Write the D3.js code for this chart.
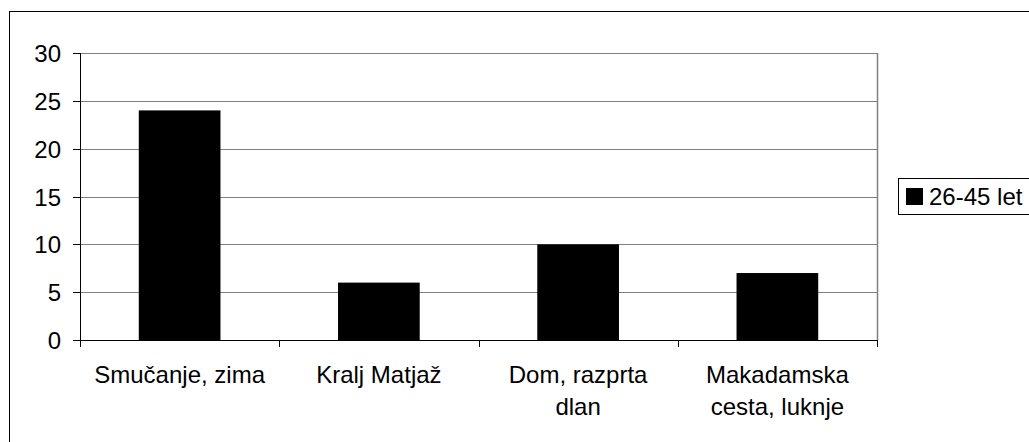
<!DOCTYPE html>
<html>
<head>
<meta charset="utf-8">
<script src="https://cdn.jsdelivr.net/npm/d3@7"></script>
<style>
  body { margin: 0; background: #fff; }
  text { font-family: "Liberation Sans", Arial, sans-serif; }
</style>
</head>
<body>
<div id="main_div"></div>
<script>
const categories = [["Smučanje, zima"], ["Kralj Matjaž"], ["Dom, razprta", "dlan"], ["Makadamska", "cesta, luknje"]];
const values = [24, 6, 10, 7];
const yTicks = [0, 5, 10, 15, 20, 25, 30];
const seriesName = "26-45 let";

const W = 1029, H = 442;
const FONT = 24;

const svg = d3.select("#main_div").append("svg")
    .attr("width", W)
    .attr("height", H);

// outer chart border (runs off the right and bottom edges)
svg.append("rect")
    .attr("x", 9.5).attr("y", 11.5)
    .attr("width", 1100).attr("height", 500)
    .attr("fill", "none")
    .attr("stroke", "#000");

const plotL = 80, plotR = 877, plotT = 53, plotB = 340;

const x = d3.scaleBand()
    .domain(d3.range(categories.length))
    .range([plotL, plotR])
    .paddingInner(0.59)
    .paddingOuter(0.295);

const xTick = d3.scaleBand()
    .domain(d3.range(categories.length))
    .range([plotL, plotR]);

const y = d3.scaleLinear()
    .domain([0, 30])
    .range([plotB, plotT]);

// gridlines
svg.append("g").selectAll("line")
    .data(yTicks.filter(v => v > 0))
    .join("line")
    .attr("x1", plotL).attr("x2", plotR)
    .attr("y1", v => Math.round(y(v)) + 0.5)
    .attr("y2", v => Math.round(y(v)) + 0.5)
    .attr("stroke", "#808080");

// right edge of plot area
svg.append("line")
    .attr("x1", plotR + 0.5).attr("x2", plotR + 0.5)
    .attr("y1", plotT).attr("y2", plotB)
    .attr("stroke", "#808080")
    .attr("stroke-width", 1.5);

// bars
svg.append("g").selectAll("rect")
    .data(values)
    .join("rect")
    .attr("x", (d, i) => x(i))
    .attr("width", x.bandwidth())
    .attr("y", d => y(d))
    .attr("height", d => y(0) - y(d))
    .attr("fill", "#000");

// y axis
svg.append("line")
    .attr("x1", plotL + 0.5).attr("x2", plotL + 0.5)
    .attr("y1", plotT).attr("y2", plotB + 6)
    .attr("stroke", "#000");

const yg = svg.append("g").selectAll("g")
    .data(yTicks)
    .join("g")
    .attr("transform", v => `translate(0,${Math.round(y(v)) + 0.5})`);
yg.append("line")
    .attr("x1", plotL - 7).attr("x2", plotL)
    .attr("stroke", "#000");
yg.append("text")
    .attr("x", 61)
    .attr("dy", "0.35em")
    .attr("text-anchor", "end")
    .attr("font-size", FONT)
    .text(d => d);

// x axis
svg.append("line")
    .attr("x1", plotL).attr("x2", plotR + 1)
    .attr("y1", plotB + 0.5).attr("y2", plotB + 0.5)
    .attr("stroke", "#000");

svg.append("g").selectAll("line")
    .data(d3.range(categories.length + 1))
    .join("line")
    .attr("x1", i => Math.round(plotL + i * xTick.step()) + 0.5)
    .attr("x2", i => Math.round(plotL + i * xTick.step()) + 0.5)
    .attr("y1", plotB)
    .attr("y2", plotB + 7)
    .attr("stroke", "#000");

const labels = svg.append("g").selectAll("text")
    .data(categories)
    .join("text")
    .attr("y", 383)
    .attr("text-anchor", "middle")
    .attr("font-size", FONT);
labels.selectAll("tspan")
    .data((d, i) => d.map(s => ({ s, i })))
    .join("tspan")
    .attr("x", d => xTick(d.i) + xTick.bandwidth() / 2)
    .attr("dy", (d, j) => j === 0 ? 0 : 32)
    .text(d => d.s);

// legend
const legend = svg.append("g");
legend.append("rect")
    .attr("x", 898.5).attr("y", 178.5)
    .attr("width", 200).attr("height", 36)
    .attr("fill", "#fff")
    .attr("stroke", "#000");
legend.append("rect")
    .attr("x", 906).attr("y", 188)
    .attr("width", 17).attr("height", 17)
    .attr("fill", "#000");
legend.append("text")
    .attr("x", 929)
    .attr("y", 205)
    .attr("font-size", FONT)
    .text(seriesName);
</script>
</body>
</html>
